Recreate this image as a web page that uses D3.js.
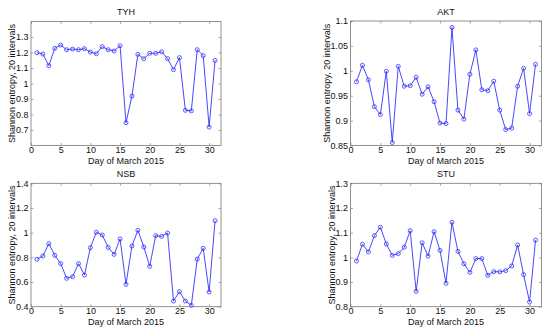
<!DOCTYPE html>
<html>
<head>
<meta charset="utf-8">
<script src="https://cdn.jsdelivr.net/npm/d3@7"></script>
<style>
  html, body { margin: 0; padding: 0; background: #fff; }
  svg text { font-family: "Liberation Sans", Arial, sans-serif; fill: #111; }
</style>
</head>
<body>
<svg id="chart" width="550" height="332"></svg>
<script>
const days = d3.range(1, 32);
const xTicks = [0, 5, 10, 15, 20, 25, 30];
const xLabel = "Day of March 2015";
const yLabel = "Shannon entropy, 20 intervals";

const titles = ["TYH", "AKT", "NSB", "STU"];

const tyh = [1.199, 1.19, 1.115, 1.227, 1.248, 1.218, 1.222, 1.218, 1.225, 1.203,
             1.192, 1.238, 1.218, 1.21, 1.244, 0.747, 0.919, 1.188, 1.16, 1.195,
             1.195, 1.205, 1.16, 1.089, 1.167, 0.827, 0.823, 1.218, 1.18, 0.719, 1.149];
const akt = [0.978, 1.011, 0.982, 0.928, 0.912, 0.999, 0.856, 1.009, 0.969, 0.970,
             0.987, 0.953, 0.968, 0.938, 0.895, 0.894, 1.087, 0.921, 0.903, 0.993,
             1.042, 0.962, 0.960, 0.979, 0.921, 0.882, 0.885, 0.969, 1.005, 0.914, 1.013];
const nsb = [0.784, 0.811, 0.911, 0.816, 0.749, 0.630, 0.643, 0.749, 0.657, 0.878,
             1.003, 0.981, 0.881, 0.824, 0.949, 0.581, 0.892, 1.019, 0.884, 0.727,
             0.976, 0.970, 0.997, 0.446, 0.522, 0.446, 0.411, 0.786, 0.873, 0.519, 1.097];
const stu = [0.985, 1.053, 1.022, 1.088, 1.122, 1.054, 1.008, 1.015, 1.041, 1.108,
             0.862, 1.059, 1.005, 1.104, 1.028, 0.895, 1.142, 1.024, 0.974, 0.939,
             0.995, 0.995, 0.927, 0.942, 0.941, 0.946, 0.965, 1.050, 0.930, 0.819, 1.070];

const yDomains = [[0.6, 1.4], [0.85, 1.1], [0.4, 1.4], [0.8, 1.3]];
const yTicksTYH = [0.7, 0.8, 0.9, 1, 1.1, 1.2, 1.3];
const yTicksAKT = [0.85, 0.9, 0.95, 1, 1.05, 1.1];
const yTicksNSB = [0.4, 0.6, 0.8, 1, 1.2, 1.4];
const yTicksSTU = [0.8, 0.9, 1, 1.1, 1.2, 1.3];

const series = [tyh, akt, nsb, stu];
const yTicks = [yTicksTYH, yTicksAKT, yTicksNSB, yTicksSTU];

// layout
const boxes = [
  {l: 31, r: 221, t: 21.5, b: 145.5, yl: 14.5},
  {l: 350.5, r: 541.5, t: 21, b: 145.5, yl: 330},
  {l: 31, r: 221, t: 183.3, b: 306.7, yl: 14.5},
  {l: 350.5, r: 541.5, t: 183.3, b: 306.7, yl: 335}
];

const svg = d3.select("#chart");
const blue = "#3333ff";
const fmt = d3.format("~g");

boxes.forEach((bx, i) => {
  const x = d3.scaleLinear().domain([0, 32]).range([bx.l, bx.r]);
  const y = d3.scaleLinear().domain(yDomains[i]).range([bx.b, bx.t]);
  const g = svg.append("g");

  // axes (inside ticks)
  const ax = g.append("g").attr("transform", `translate(0,${bx.b})`)
    .call(d3.axisBottom(x).tickValues(xTicks).tickSize(-2.5).tickPadding(3.5).tickFormat(fmt));
  const axTop = g.append("g").attr("transform", `translate(0,${bx.t})`)
    .call(d3.axisTop(x).tickValues(xTicks).tickSize(-2.5).tickFormat(""));
  const ay = g.append("g").attr("transform", `translate(${bx.l},0)`)
    .call(d3.axisLeft(y).tickValues(yTicks[i]).tickSize(-2.5).tickPadding(2.5).tickFormat(fmt));
  const ayR = g.append("g").attr("transform", `translate(${bx.r},0)`)
    .call(d3.axisRight(y).tickValues(yTicks[i]).tickSize(-2.5).tickFormat(""));
  [ax, axTop, ay, ayR].forEach(a => {
    a.select(".domain").remove();
    a.selectAll(".tick line").attr("stroke", "#888").attr("stroke-width", 0.7);
    a.selectAll("text").attr("font-size", 9).attr("fill", "#111")
      .attr("font-family", "'Liberation Sans', Arial, sans-serif");
  });
  ax.selectAll("text").attr("dy", "0.45em");

  g.append("rect")
    .attr("x", bx.l).attr("y", bx.t)
    .attr("width", bx.r - bx.l).attr("height", bx.b - bx.t)
    .attr("fill", "none").attr("stroke", "#777").attr("stroke-width", 0.8);

  // title
  g.append("text").attr("x", (bx.l + bx.r) / 2).attr("y", bx.t - 6.5)
    .attr("text-anchor", "middle").attr("font-size", 9).text(titles[i]);
  // x label
  g.append("text").attr("x", (bx.l + bx.r) / 2).attr("y", bx.b + 18)
    .attr("text-anchor", "middle").attr("font-size", 9).text(xLabel);
  // y label
  g.append("text")
    .attr("transform", `translate(${bx.yl},${(bx.t + bx.b) / 2}) rotate(-90)`)
    .attr("text-anchor", "middle").attr("font-size", 9).text(yLabel);

  const data = days.map((d, k) => [d, series[i][k]]);
  g.append("path").datum(data)
    .attr("fill", "none").attr("stroke", blue).attr("stroke-width", 0.9)
    .attr("d", d3.line().x(d => x(d[0])).y(d => y(d[1])));
  g.selectAll("circle").data(data).join("circle")
    .attr("cx", d => x(d[0])).attr("cy", d => y(d[1])).attr("r", 2)
    .attr("fill", "none").attr("stroke", blue).attr("stroke-width", 0.8);
});
</script>
</body>
</html>
